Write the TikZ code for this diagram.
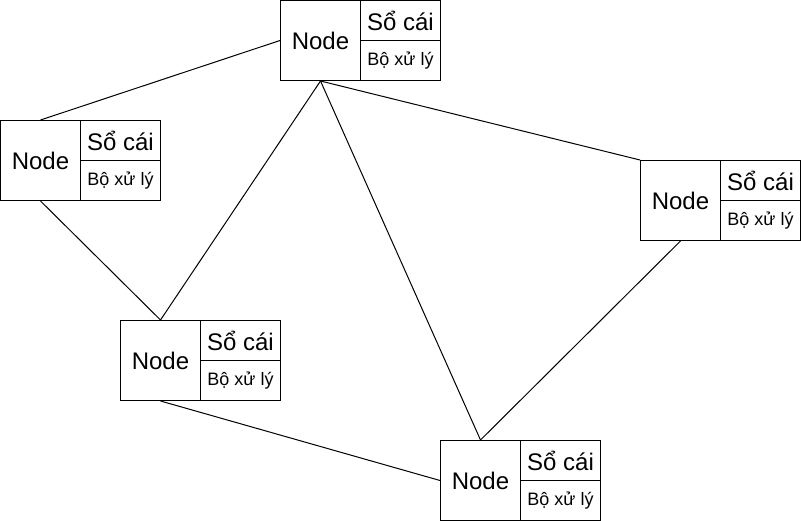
\documentclass[tikz,border=0pt]{standalone}
\usepackage{fontspec}
\setmainfont{Liberation Sans}
\begin{document}
\begin{tikzpicture}[x=1bp,y=-1bp,line width=1bp,
  cellL/.style={draw,inner sep=0pt,minimum width=80bp,minimum height=80bp,font=\fontsize{24bp}{28bp}\selectfont},
  cellA/.style={draw,inner sep=0pt,minimum width=80bp,minimum height=40bp,font=\fontsize{24bp}{28bp}\selectfont},
  cellB/.style={draw,inner sep=0pt,minimum width=80bp,minimum height=40bp,font=\fontsize{18bp}{21bp}\selectfont},
  link/.style={draw,line width=1bp}]
\useasboundingbox (-0.5,-0.5) rectangle (800.5,520.5);
\newcommand\mkdnode[3]{%
  \node[cellL] (#1) at (#2+40,#3+40) {Node};
  \node[cellA] (#1s) at (#2+120,#3+20) {Sổ cái};
  \node[cellB] (#1b) at (#2+120,#3+60) {Bộ xử lý};
}
\mkdnode{n1}{280}{0}
\mkdnode{n2}{0}{120}
\mkdnode{n3}{640}{160}
\mkdnode{n4}{120}{320}
\mkdnode{n5}{440}{440}
\draw[link] (n1.west) -- (n2.north);
\draw[link] (n2.south) -- (n4.north);
\draw[link] (n1.south) -- (n4.north);
\draw[link] (n1.south) -- (n5.north);
\draw[link] (n1.south) -- (n3.north west);
\draw[link] (n3.south) -- (n5.north);
\draw[link] (n4.south) -- (n5.west);
\end{tikzpicture}
\end{document}
